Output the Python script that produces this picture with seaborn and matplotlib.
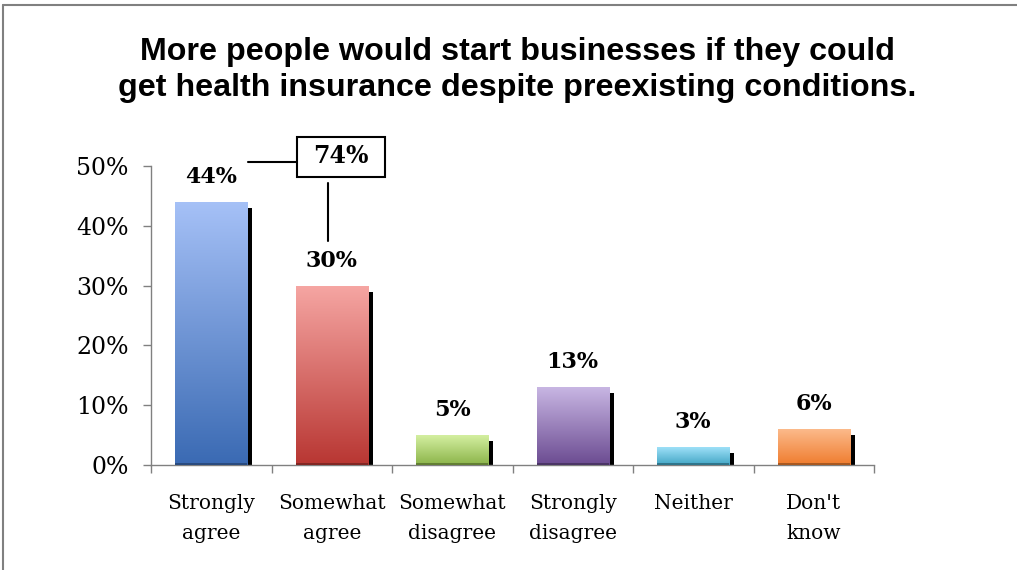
import numpy as np
import pandas as pd
import matplotlib
matplotlib.use("Agg")
import matplotlib.pyplot as plt
from matplotlib.colors import LinearSegmentedColormap
from matplotlib.lines import Line2D
from matplotlib.patches import Rectangle
import seaborn as sns

# Survey responses
categories = ["Strongly\nagree", "Somewhat\nagree", "Somewhat\ndisagree",
              "Strongly\ndisagree", "Neither", "Don't\nknow"]
values = [44, 30, 5, 13, 3, 6]
value_labels = ["44%", "30%", "5%", "13%", "3%", "6%"]
combined_agree = "74%"
y_ticks = [0, 10, 20, 30, 40, 50]
y_tick_labels = ["0%", "10%", "20%", "30%", "40%", "50%"]
title = ("More people would start businesses if they could\n"
         "get health insurance despite preexisting conditions.")

# Gradient end colours (top, bottom) for each bar
top_colors = ["#A6C1F7", "#F6A6A3", "#D4EFA1", "#C8B6E3", "#9EE0F8", "#FCBA8B"]
bottom_colors = ["#3A6AB3", "#B83632", "#8BB449", "#6B4B91", "#42A6C5", "#EF7C2E"]

sns.set_theme(style="white")
plt.rcParams["font.family"] = ["DejaVu Serif"]
plt.rcParams["text.color"] = "black"
plt.rcParams["xtick.color"] = "black"
plt.rcParams["ytick.color"] = "black"

W, H = 1017, 570
fig = plt.figure(figsize=(W / 100, H / 100), dpi=100)
ax = fig.add_axes([151 / W, 1 - 465 / H, (874 - 151) / W, (465 - 166) / H])

df = pd.DataFrame({"cat": categories, "val": values})
bar_w = 0.6

# Drop shadows behind the bars
shadow = df.assign(val=df["val"] - 1)
sns.barplot(data=shadow, x="cat", y="val", color="black", width=bar_w,
            ax=ax, zorder=1, saturation=1)
shadow_patches = list(ax.patches)
for p in shadow_patches:
    p.set_x(p.get_x() + 0.042)
    p.set_linewidth(0)

# Main bars
sns.barplot(data=df, x="cat", y="val", color="white", width=bar_w,
            ax=ax, zorder=2, saturation=1)
main_patches = [p for p in ax.patches if p not in shadow_patches]

ax.set_xlim(-0.5, len(categories) - 0.5)
ax.set_ylim(0, 50)

grad = np.linspace(0, 1, 256).reshape(-1, 1)
for p, c_top, c_bot in zip(main_patches, top_colors, bottom_colors):
    p.set_linewidth(0)
    x0, w, h = p.get_x(), p.get_width(), p.get_height()
    cmap = LinearSegmentedColormap.from_list("g", [c_bot, c_top])
    im = ax.imshow(grad, cmap=cmap, origin="lower", aspect="auto",
                   extent=[x0, x0 + w, 0, h], zorder=3, interpolation="bicubic")
    im.set_clip_path(p)
    # darker base edge
    ax.plot([x0, x0 + w], [0.15, 0.15], color=c_bot, lw=2,
            zorder=4, solid_capstyle="butt", alpha=0.9)
    ax.plot([x0, x0 + w], [0.15, 0.15], color="black", lw=1.2,
            zorder=4, solid_capstyle="butt", alpha=0.35)

# Value labels
for i, (v, lab) in enumerate(zip(values, value_labels)):
    ax.annotate(lab, xy=(i, v), xytext=(0, 18), textcoords="offset points",
                ha="center", va="center", fontsize=16, fontweight="bold",
                color="black", zorder=6)

# Combined agreement callout
ax.add_patch(Rectangle((0.712, 48.2), 0.73, 6.65, fc="white", ec="black",
                       lw=1.5, clip_on=False, zorder=6))
ax.text(1.077, 51.6, combined_agree, ha="center", va="center", fontsize=17,
        fontweight="bold", zorder=7, clip_on=False)
ax.plot([0.305, 0.712], [50.7, 50.7], color="black", lw=1.5, clip_on=False, zorder=6)
ax.plot([0.969, 0.969], [47.2, 37.5], color="black", lw=1.5, clip_on=False, zorder=6)

# Axes styling
ax.set_xticks(np.arange(-0.5, len(categories), 1.0))
ax.set_xticklabels([])
ax.set_xticks(np.arange(len(categories)), minor=True)
ax.set_xticklabels(categories, minor=True, fontsize=14.5, linespacing=1.7)
ax.tick_params(axis="x", which="minor", length=0, pad=21)
ax.tick_params(axis="x", which="major", direction="out", length=6,
               width=1, color="#808080", bottom=True)
ax.set_yticks(y_ticks)
ax.set_yticklabels(y_tick_labels, fontsize=17)
ax.tick_params(axis="y", direction="out", length=6, width=1,
               color="#808080", left=True, pad=10)
ax.set_xlabel("")
ax.set_ylabel("")
for s in ["top", "right"]:
    ax.spines[s].set_visible(False)
for s in ["left", "bottom"]:
    ax.spines[s].set_color("#808080")
    ax.spines[s].set_linewidth(1)

fig.text(517 / W, 1 - 70 / H, title, ha="center", va="center",
         fontsize=23.2, fontweight="bold", family="Liberation Sans",
         linespacing=1.3, color="black")

# Frame around the chart area
fig.add_artist(Line2D([2.5 / W, 1], [1 - 5 / H, 1 - 5 / H], color="#808080", lw=1.5))
fig.add_artist(Line2D([2.5 / W, 2.5 / W], [0, 1 - 5 / H], color="#808080", lw=1.5))

fig.savefig("out.png", dpi=100)
